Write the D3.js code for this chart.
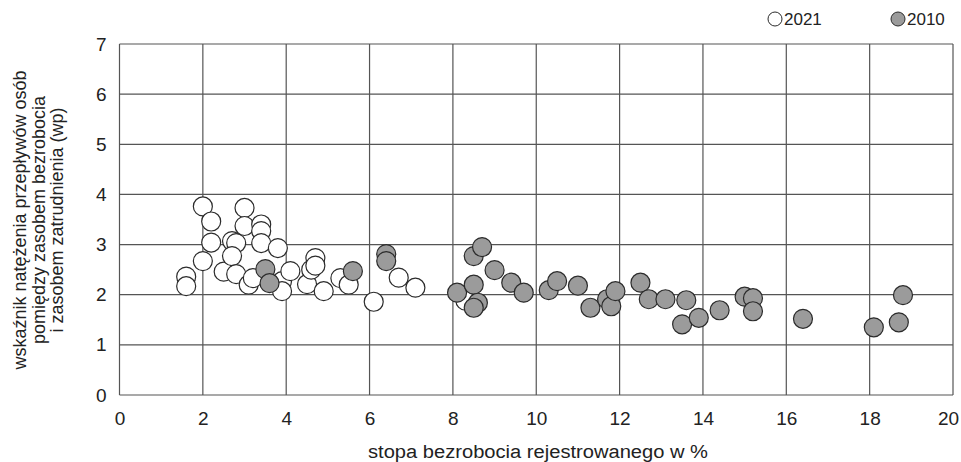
<!doctype html>
<html>
<head>
<meta charset="utf-8">
<title>wp</title>
<style>
  body { margin: 0; background: #fff; overflow: hidden; }
  svg { display: block; font-family: "Liberation Sans", Arial, sans-serif; }
  .grid line { stroke: #555; stroke-width: 1.2px; }
  .tick text { font-size: 19px; fill: #222; }
</style>
</head>
<body>
<svg width="961" height="462"></svg>
<script src="https://cdn.jsdelivr.net/npm/d3@7"></script>
<script>
// 2021 - stopa bezrobocia (x), wskaźnik wp (y)
var x2021 = [1.6, 1.6, 2.0, 2.2, 2.2, 2.0, 2.5, 2.7, 2.8, 2.7, 2.8, 3.0, 3.0, 3.4, 3.4, 3.4,
             3.1, 3.2, 3.8, 3.9, 3.9, 4.1, 4.5, 4.6, 4.7, 4.7, 4.9, 5.3, 5.5, 6.1, 6.7, 7.1, 8.3];
var y2021 = [2.36, 2.17, 3.76, 3.46, 3.04, 2.67, 2.46, 3.07, 3.03, 2.77, 2.41, 3.73, 3.37, 3.4, 3.27, 3.03,
             2.2, 2.33, 2.93, 2.27, 2.07, 2.47, 2.21, 2.5, 2.73, 2.58, 2.07, 2.33, 2.2, 1.86, 2.34, 2.14, 1.88];
// 2010
var x2010 = [3.5, 3.6, 5.6, 6.4, 6.4, 8.1, 8.5, 8.7, 8.5, 8.6, 8.5, 9.0, 9.4, 9.7, 10.3, 10.5, 11.0,
             11.3, 11.7, 11.8, 11.9, 12.5, 12.7, 13.1, 13.6, 13.5, 13.9, 14.4, 15.0, 15.2, 15.2, 16.4,
             18.1, 18.7, 18.8];
var y2010 = [2.51, 2.23, 2.47, 2.81, 2.67, 2.04, 2.77, 2.95, 2.2, 1.84, 1.74, 2.49, 2.24, 2.04, 2.09, 2.27, 2.18,
             1.74, 1.91, 1.77, 2.07, 2.24, 1.91, 1.91, 1.89, 1.41, 1.54, 1.69, 1.96, 1.93, 1.67, 1.52,
             1.35, 1.45, 1.99];
var xTicks = [0, 2, 4, 6, 8, 10, 12, 14, 16, 18, 20];
var yTicks = [0, 1, 2, 3, 4, 5, 6, 7];
var series = [
  { name: "2021", xs: x2021, ys: y2021, fill: "#fff" },
  { name: "2010", xs: x2010, ys: y2010, fill: "#9b9b9b" }
];

var svg = d3.select("svg"),
    margin = { top: 44, right: 8, bottom: 67, left: 119.5 },
    width = +svg.attr("width") - margin.left - margin.right,
    height = +svg.attr("height") - margin.top - margin.bottom,
    g = svg.append("g").attr("transform", "translate(" + margin.left + "," + margin.top + ")");

var x = d3.scaleLinear().domain([0, 20]).range([0, width]);
var y = d3.scaleLinear().domain([0, 7]).range([height, 0]);

// siatka
var grid = g.append("g").attr("class", "grid");
grid.selectAll(".v").data(xTicks).enter().append("line")
    .attr("x1", d => x(d)).attr("x2", d => x(d))
    .attr("y1", 0).attr("y2", height);
grid.selectAll(".h").data(yTicks).enter().append("line")
    .attr("x1", 0).attr("x2", width)
    .attr("y1", d => y(d)).attr("y2", d => y(d));

var xAxisG = g.append("g")
    .attr("transform", "translate(0," + height + ")")
    .call(d3.axisBottom(x).tickValues(xTicks).tickFormat(d3.format("d")).tickSize(0).tickPadding(17));
// ostatnia etykieta lekko w lewo, zeby sie miescila
xAxisG.selectAll(".tick text").filter(d => d === 20).attr("dx", -5);
g.append("g")
    .call(d3.axisLeft(y).tickValues(yTicks).tickFormat(d3.format("d")).tickSize(0).tickPadding(13));
g.selectAll(".domain").remove();
g.selectAll(".tick text").attr("font-family", "Liberation Sans, Arial, sans-serif");

// punkty
series.forEach(function(s) {
  g.append("g").selectAll("circle")
    .data(s.xs.map((v, i) => [v, s.ys[i]]))
    .enter().append("circle")
    .attr("cx", d => x(d[0]))
    .attr("cy", d => y(d[1]))
    .attr("r", 9.5)
    .attr("fill", s.fill)
    .attr("stroke", "#2b2b2b")
    .attr("stroke-width", 1.2);
});

// legenda
var leg = svg.append("g").attr("transform", "translate(775,19)");
series.forEach(function(s, i) {
  var lg = leg.append("g").attr("transform", "translate(" + (i * 123) + ",0)");
  lg.append("circle").attr("r", 7).attr("fill", s.fill)
    .attr("stroke", "#2b2b2b").attr("stroke-width", 1);
  lg.append("text").attr("x", 9).attr("dy", "0.36em")
    .attr("font-size", 17).attr("fill", "#222").text(s.name);
});

// tytuły osi
svg.append("text")
    .attr("x", 538).attr("y", 458)
    .attr("text-anchor", "middle").attr("font-size", 18).attr("fill", "#222")
    .attr("textLength", 340).attr("lengthAdjust", "spacingAndGlyphs")
    .text("stopa bezrobocia rejestrowanego w %");

var ytitle = ["wskaźnik natężenia przepływów osób", "pomiędzy zasobem bezrobocia", "i zasobem zatrudnienia (wp)"];
svg.append("g").attr("transform", "translate(26,220) rotate(-90)")
  .selectAll("text").data(ytitle).enter().append("text")
    .attr("y", (d, i) => i * 18.5)
    .attr("text-anchor", "middle").attr("font-size", 18).attr("fill", "#222")
    .text(d => d);
</script>
</body>
</html>
